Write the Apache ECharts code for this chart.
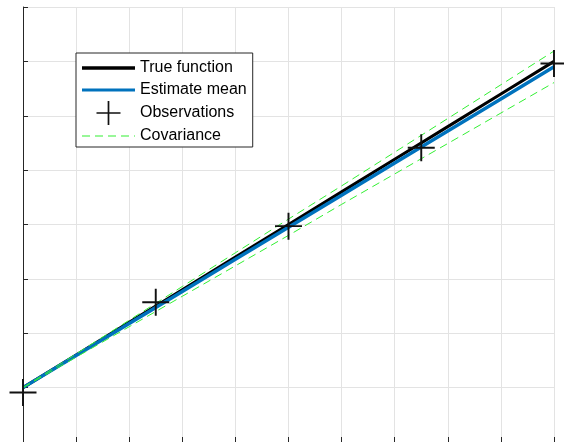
<!DOCTYPE html>
<html>
<head>
<meta charset="utf-8">
<script src="https://cdn.jsdelivr.net/npm/echarts@6/dist/echarts.min.js"></script>
<style>html,body{margin:0;padding:0;background:#fff;}#c{width:564px;height:442px;}</style>
</head>
<body>
<div id="c"></div>
<script>
// Data
var xVals = [0, 1, 2, 3, 4, 5, 6, 7, 8, 9, 10];
var trueFunction = [1.00, 1.60, 2.20, 2.80, 3.40, 4.00, 4.60, 5.20, 5.80, 6.40, 7.00];
var estimateMean = [1.00, 1.59, 2.18, 2.77, 3.36, 3.95, 4.54, 5.13, 5.72, 6.31, 6.90];
var covUpper = [1.00, 1.62, 2.24, 2.86, 3.48, 4.10, 4.71, 5.33, 5.95, 6.57, 7.19];
var covLower = [1.00, 1.56, 2.12, 2.68, 3.24, 3.80, 4.37, 4.93, 5.49, 6.05, 6.61];
var obsX = [0, 2.5, 5, 7.5, 10];
var obsY = [0.91, 2.57, 3.97, 5.41, 6.96];
var legendNames = ['True function', 'Estimate mean', 'Observations', 'Covariance'];

function pairs(xs, ys) { return xs.map(function (x, i) { return [x, ys[i]]; }); }

var crossPath = 'path://M-1,-14H1V14H-1Z M-14,-1H14V1H-14Z';
var iconBlack = 'path://M0,0H53V3.5H0Z';
var iconBlue = 'path://M0,0H53V3H0Z';
var iconDash = 'path://M0,0H8V1H0Z M13,0H21V1H13Z M26,0H34V1H26Z M39,0H47V1H39Z M52,0H53V1H52Z';
var font = 'Liberation Sans, Arial, Helvetica, sans-serif';
var green = '#33f033';

var chart = echarts.init(document.getElementById('c'), null, {renderer: 'canvas'});
chart.setOption({
  animation: false,
  backgroundColor: '#fff',
  grid: {left: 23, top: 7, width: 531, height: 436, containLabel: false},
  xAxis: {
    type: 'value', min: 0, max: 10, interval: 1,
    axisLabel: {show: false},
    axisLine: {lineStyle: {color: '#262626', width: 1}},
    axisTick: {inside: true, length: 5, lineStyle: {color: '#262626'}},
    splitLine: {show: true, lineStyle: {color: '#e3e3e3', width: 1}}
  },
  yAxis: {
    type: 'value', min: 0, max: 8, interval: 1,
    axisLabel: {show: false},
    axisLine: {show: true, lineStyle: {color: '#262626', width: 1}},
    axisTick: {show: true, inside: true, length: 5, lineStyle: {color: '#262626'}},
    splitLine: {show: true, lineStyle: {color: '#e3e3e3', width: 1}}
  },
  legend: {
    orient: 'vertical', left: 76, top: 53,
    itemWidth: 53, itemHeight: 24, itemGap: 0,
    padding: [4, 6, 0, 6],
    borderColor: '#262626', borderWidth: 1, backgroundColor: '#fff',
    symbolKeepAspect: true,
    itemStyle: {borderWidth: 0},
    textStyle: {fontSize: 16, lineHeight: 22, color: '#000', fontFamily: font},
    data: [
      {name: legendNames[0], icon: iconBlack},
      {name: legendNames[1], icon: iconBlue},
      {name: legendNames[2], icon: crossPath},
      {name: legendNames[3], icon: iconDash}
    ]
  },
  series: [
    {name: legendNames[0], type: 'line', symbol: 'none', data: pairs(xVals, trueFunction),
     lineStyle: {color: '#000', width: 3}, itemStyle: {color: '#000'}, z: 2},
    {name: legendNames[1], type: 'line', symbol: 'none', data: pairs(xVals, estimateMean),
     lineStyle: {color: '#0072BD', width: 3.5}, itemStyle: {color: '#0072BD'}, z: 3},
    {name: legendNames[2], type: 'scatter', symbol: crossPath, symbolSize: 27, symbolKeepAspect: true,
     data: pairs(obsX, obsY), itemStyle: {color: '#111', opacity: 1}, clip: false, z: 5},
    {name: legendNames[3], type: 'line', symbol: 'none', data: pairs(xVals, covUpper),
     lineStyle: {color: green, width: 1, type: [8, 5]}, itemStyle: {color: green}, z: 4},
    {name: legendNames[3], type: 'line', symbol: 'none', data: pairs(xVals, covLower),
     lineStyle: {color: green, width: 1, type: [8, 5]}, itemStyle: {color: green}, z: 4}
  ]
});
</script>
</body>
</html>
